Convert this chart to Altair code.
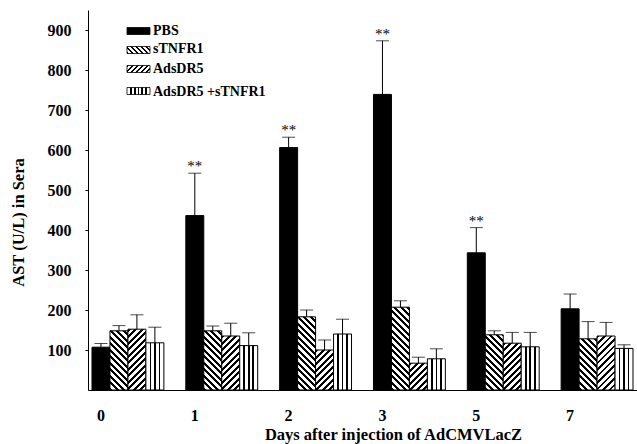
import altair as alt

# ---------------- data ----------------
days = ["0", "1", "2", "3", "5", "7"]
series = ["PBS", "sTNFR1", "AdsDR5", "AdsDR5 +sTNFR1"]

pbs_mean = [107, 436, 606, 739, 343, 203]
pbs_err = [9, 106, 26, 134, 63, 37]
stnfr1_mean = [148, 148, 183, 207, 138, 128]
stnfr1_err = [13, 12, 17, 16, 10, 43]
adsdr5_mean = [152, 135, 100, 67, 117, 135]
adsdr5_err = [36, 32, 25, 15, 27, 34]
combo_mean = [118, 111, 140, 78, 108, 104]
combo_err = [39, 32, 37, 25, 36, 9]
pbs_sig = ["", "**", "**", "**", "**", ""]

y_ticks = [100, 200, 300, 400, 500, 600, 700, 800, 900]

# ---------------- layout ----------------
W, H = 549, 380
YMAX = 950
PI, PO = 0.234, 0.0426
step = W / (len(days) - PI + 2 * PO)
bar_w = step * (1 - PI) / len(series)
px_per_unit = H / YMAX
FONT = "Liberation Serif"


def stripe_stops(period_t, black_frac):
    stops = []
    k = 0
    while k * period_t < 1:
        a = k * period_t
        b = min((k + black_frac) * period_t, 1)
        c = min((k + 1) * period_t, 1)
        stops += [
            {"offset": a, "color": "black"},
            {"offset": b, "color": "black"},
            {"offset": b, "color": "white"},
            {"offset": c, "color": "white"},
        ]
        k += 1
    return stops


def pattern(kind, w, h, period=6.5):
    if kind == "solid":
        return "black"
    if kind == "vert":
        n = 4 if w > 20 else 4
        n = 6 if w > 20 else n
        stops = []
        hw = 0.85 / w
        for k in range(1, n):
            c = k / n
            stops += [
                {"offset": c - hw, "color": "white"},
                {"offset": c - hw, "color": "black"},
                {"offset": c + hw, "color": "black"},
                {"offset": c + hw, "color": "white"},
            ]
        stops = [{"offset": 0, "color": "white"}] + stops + [{"offset": 1, "color": "white"}]
        return {"gradient": "linear", "x1": 0, "y1": 0, "x2": 1, "y2": 0, "stops": stops}
    h = max(h, 1)
    a = (w + h) / (w * w + h * h)
    pt = period / (w + h)
    stops = stripe_stops(pt, 0.45)
    if kind == "back":  # "\\\"
        return {"gradient": "linear", "x1": 0, "y1": 1, "x2": a * w, "y2": 1 - a * h, "stops": stops}
    return {"gradient": "linear", "x1": 0, "y1": 0, "x2": a * w, "y2": a * h, "stops": stops}


kinds = ["solid", "back", "fwd", "vert"]
means = [pbs_mean, stnfr1_mean, adsdr5_mean, combo_mean]
errs = [pbs_err, stnfr1_err, adsdr5_err, combo_err]

rows = []
for i, d in enumerate(days):
    for j, s in enumerate(series):
        m = means[j][i]
        rows.append({
            "day": d,
            "series": s,
            "mean": m,
            "cap": m + errs[j][i],
            "sig": pbs_sig[i] if j == 0 else "",
            "fill": pattern(kinds[j], bar_w, m * px_per_unit),
        })

# legend rows (pixel positions inside the plot area)
leg_center = [21, 40, 59, 81]
leg_text_center = [21, 39, 59, 82]
leg_rows = []
for j, s in enumerate(series):
    leg_rows.append({
        "series": s,
        "ly": leg_center[j] - 3.5,
        "ly2": leg_center[j] + 3.5,
        "ty": leg_text_center[j],
        "fill": pattern(kinds[j], 23, 7, period=5),
    })

data = alt.Data(values=rows)
legdata = alt.Data(values=leg_rows)

x_enc = alt.X(
    "day:N",
    sort=days,
    scale=alt.Scale(paddingInner=PI, paddingOuter=PO),
    axis=alt.Axis(
        title="Days after injection of AdCMVLacZ",
        labelAngle=0,
        labelOffset=-27,
        ticks=False,
        labelPadding=17,
        labelFontSize=16,
        titleX=305,
        titleY=44,
        titleAlign="center",
        titleBaseline="middle",
    ),
)
xo_enc = alt.XOffset("series:N", sort=series, scale=alt.Scale(paddingInner=0, paddingOuter=0))
y_scale = alt.Scale(domain=[0, YMAX], nice=False, zero=True)

base = alt.Chart(data)

bars = base.mark_bar(stroke="black", strokeWidth=1).encode(
    x=x_enc,
    xOffset=xo_enc,
    y=alt.Y(
        "mean:Q",
        scale=y_scale,
        axis=alt.Axis(
            title="AST (U/L) in Sera",
            values=y_ticks,
            grid=False,
            tickSize=3,
            labelPadding=14,
            labelFontSize=16,
            titleX=-70,
            titleY=212,
            titleAngle=-90,
            titleAlign="center",
            titleBaseline="middle",
        ),
    ),
    fill=alt.Fill("fill:N", scale=None),
)

rules = base.mark_rule(color="black", strokeWidth=1).encode(
    x=x_enc, xOffset=xo_enc, y="mean:Q", y2="cap:Q"
)

caps = base.mark_tick(color="black", thickness=1, size=13, orient="horizontal").encode(
    x=x_enc, xOffset=xo_enc, y="cap:Q"
)

stars = base.transform_filter("datum.sig != ''").mark_text(
    font=FONT, fontSize=15, color="black", baseline="alphabetic", dy=-2
).encode(x=x_enc, xOffset=xo_enc, y="cap:Q", text="sig:N")

legbase = alt.Chart(legdata)
leg_sw = legbase.mark_rect(stroke="black", strokeWidth=0.8).encode(
    x=alt.value(39),
    x2=alt.value(62),
    y=alt.Y("ly:Q", scale=None),
    y2="ly2:Q",
    fill=alt.Fill("fill:N", scale=None),
)
leg_tx = legbase.mark_text(
    font=FONT, fontSize=14, fontWeight="bold", align="left", baseline="middle", color="black"
).encode(x=alt.value(65), y=alt.Y("ty:Q", scale=None), text="series:N")

chart = (
    alt.layer(bars, rules, caps, stars, leg_sw, leg_tx)
    .properties(
        width=W,
        height=H,
        padding={"left": 88, "top": 10, "right": 0, "bottom": 54},
        autosize=alt.AutoSizeParams(type="none"),
    )
    .configure_view(stroke=None)
    .configure_axis(
        labelFont=FONT,
        labelFontWeight="bold",
        labelColor="black",
        titleFont=FONT,
        titleFontWeight="bold",
        titleFontSize=16.5,
        titleColor="black",
        domainColor="black",
        tickColor="black",
        domainWidth=1,
    )
)

chart.save("out.html", embed_options={"renderer": "svg", "actions": False})
